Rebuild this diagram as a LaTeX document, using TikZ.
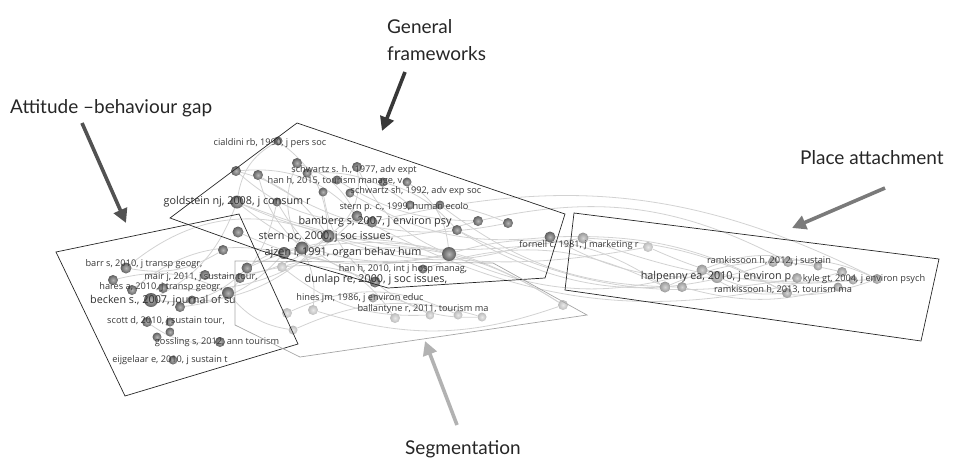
\documentclass[tikz,border=0pt]{standalone}
\usepackage{fontspec}
\setmainfont{Lato}
\newfontfamily\lblfont{Open Sans}
\usetikzlibrary{arrows.meta}
\definecolor{dkball}{HTML}{787878}
\definecolor{mdball}{HTML}{B2B2B2}
\definecolor{ltball}{HTML}{D4D4D4}
\definecolor{edgec}{HTML}{D2D2D2}
\definecolor{labc}{HTML}{383838}
\pgfdeclarelayer{linklayer}
\pgfsetlayers{linklayer,main}
\begin{document}
\begin{tikzpicture}[x=1pt,y=-1pt,
  dk/.style={circle,inner sep=0pt,minimum size=#1,shading=radial,inner color=dkball!55!white,outer color=dkball!80!black},
  md/.style={circle,inner sep=0pt,minimum size=#1,shading=radial,inner color=mdball!55!white,outer color=mdball!85!black},
  lt/.style={circle,inner sep=0pt,minimum size=#1,shading=radial,inner color=ltball!50!white,outer color=ltball!88!black},
  lab/.style={inner sep=0pt,font=\lblfont\fontsize{9.2}{10}\selectfont,text=labc},
  biglab/.style={inner sep=0pt,font=\lblfont\fontsize{10.8}{12}\selectfont,text=labc!85!black},
  web/.style={draw=edgec,line width=0.8pt},
  hull/.style={draw=black!85,line width=0.7pt},
  seghull/.style={draw=black!35,line width=0.7pt},
  title/.style={inner sep=0pt,anchor=base west,font=\fontsize{19}{22}\selectfont,text=black!85},
  pointer/.style={line width=3.6pt,-{Triangle[length=14pt,width=14pt]}}
]
\useasboundingbox (0,0) rectangle (961,458);

% ---------- balls ----------
% left cluster
\node[dk=11pt] (L1) at (126,268) {};
\node[dk=10pt] (L2) at (113,280) {};
\node[dk=10pt] (L3) at (132,290) {};
\node[dk=14pt] (L4) at (151,300) {};
\node[dk=10pt] (L5) at (163,288) {};
\node[dk=10pt] (L6) at (180,307) {};
\node[dk=9pt] (L7) at (192,300) {};
\node[dk=10pt] (L8) at (205,275) {};
\node[dk=12pt] (L9) at (228,293) {};
\node[dk=10pt] (L10) at (240,278) {};
\node[dk=11pt] (L11) at (247,268) {};
\node[dk=10pt] (L12) at (223,250) {};
\node[dk=11pt] (L13) at (238,232) {};
\node[dk=10pt] (L14) at (147,322) {};
\node[dk=9pt] (L15) at (170,322) {};
\node[dk=9pt] (L16) at (170,332) {};
\node[dk=9pt] (L17) at (157,337) {};
\node[dk=10pt] (L18) at (220,342) {};
\node[dk=9pt] (L19) at (173,360) {};
% central cluster
\node[dk=9pt] (C1) at (278,141) {};
\node[dk=10pt] (C2) at (236,171) {};
\node[dk=10pt] (C3) at (258,175) {};
\node[dk=10pt] (C4) at (297,163) {};
\node[dk=9pt] (C5) at (307,173) {};
\node[dk=10pt] (C6) at (357,167) {};
\node[dk=9pt] (C7) at (337,180) {};
\node[dk=9pt] (C8) at (350,193) {};
\node[dk=9pt] (C9) at (383,182) {};
\node[dk=9pt] (C10) at (407,182) {};
\node[dk=9pt] (C11) at (323,192) {};
\node[dk=13pt] (C12) at (237,202) {};
\node[dk=9pt] (C13) at (277,202) {};
\node[dk=9pt] (C14) at (410,205) {};
\node[dk=9pt] (C15) at (440,205) {};
\node[dk=11pt] (C16) at (357,216) {};
\node[dk=13pt] (C17) at (328,236) {};
\node[dk=13pt] (C19) at (302,248) {};
\node[dk=14pt] (C20) at (449,254) {};
\node[dk=10pt] (C22) at (478,221) {};
\node[dk=10pt] (C23) at (508,223) {};
\node[dk=10pt] (C24) at (457,230) {};
\node[dk=11pt] (C25) at (550,237) {};
\node[dk=11pt] (C26) at (375,282) {};
\node[dk=11pt] (C28) at (372,222) {};
\node[dk=12pt] (C29) at (284,253) {};
\node[dk=9pt] (C30) at (423,269) {};
% segmentation
\node[lt=10pt] (S1) at (282,267) {};
\node[lt=10pt] (S2) at (313,310) {};
\node[lt=10pt] (S3) at (287,313) {};
\node[lt=9pt] (S4) at (293,330) {};
\node[lt=10pt] (S5) at (395,318) {};
\node[lt=9pt] (S6) at (430,315) {};
\node[lt=9pt] (S7) at (458,315) {};
\node[lt=9pt] (S8) at (482,317) {};
\node[lt=10pt] (S9) at (563,305) {};
\node[md=9pt] (S10) at (373,298) {};
% right cluster
\node[md=11pt] (R1) at (583,238) {};
\node[lt=10pt] (R2) at (648,247) {};
\node[md=11pt] (R3) at (702,270) {};
\node[md=10pt] (R4) at (773,262) {};
\node[md=10pt] (R5) at (788,262) {};
\node[md=9pt] (R6) at (818,266) {};
\node[md=10pt] (R7) at (797,278) {};
\node[md=10pt] (R8) at (842,272) {};
\node[md=9pt] (R9) at (853,280) {};
\node[md=10pt] (R10) at (877,279) {};
\node[md=11pt] (R11) at (665,287) {};
\node[md=10pt] (R12) at (682,287) {};
\node[md=10pt] (R13) at (787,293) {};
\node[md=9pt] (R14) at (838,287) {};
\node[md=12pt] (R15) at (717,277) {};

% ---------- links (behind the balls) ----------
\begin{pgfonlayer}{linklayer}
\foreach \a/\b/\c in {C12/L4/20,C12/C20/-25,C2/C28/-20,C1/C17/25,C3/C19/-15,C4/C16/20,
  C6/C20/-20,C9/C24/15,C11/C26/-20,C13/L9/15,C17/L4/25,C19/L11/-15,C20/R3/-20,C25/R15/-15,
  C20/R11/25,C24/R4/-25,C16/R8/-22,C28/R10/20,L4/L11/-25,L1/L12/-20,L2/L9/20,L14/L18/-20,
  C29/L6/20,C29/S5/25,C19/S9/20,C26/S8/-20,S3/S7/25,S1/S6/-20,C17/C25/-20,C12/C22/-20,
  C2/C16/25,C3/C23/-22,R1/R10/-12,R1/R13/12,R2/R9/-15,R11/R8/18,R12/R14/-15,R3/R6/20,
  R15/R10/-20,C25/R13/15,C24/R7/-18,L13/C20/-18,L8/C17/-20,C5/C14/20,C7/C22/-15,C8/C25/-18,
  L3/C29/25,L10/C26/20,S2/S9/-18,S4/S8/20,C30/R11/22,C14/C23/12,C1/C12/-25,C2/C17/20,
  C4/C19/-25,C6/C17/30,C10/C20/25,C13/C26/-20,L1/C17/30,L5/C16/-25,L11/C20/20,C12/R1/-15,
  C22/R5/20,C15/R12/-18,S1/S9/25,S10/S6/15,C19/S2/15,L9/S4/-20,C17/R2/-12,R3/R13/-20,R4/R10/15}
  {\draw[web] (\a) to[bend left=\c] (\b);}
\end{pgfonlayer}

% ---------- labels ----------
\node[lab] (t1) at (144,264) {barr s, 2010, j transp geogr,};
\node[lab] (t2) at (201,277) {mair j, 2011, j sustain tour,};
\node[lab] (t3) at (161,287) {hares a, 2010, j transp geogr,};
\node[biglab] (t4) at (163,301) {becken s., 2007, journal of su};
\node[lab] (t5) at (166,321) {scott d, 2010, j sustain tour,};
\node[lab] (t6) at (217,342) {gossling s, 2012, ann tourism};
\node[lab] (t7) at (170,360) {eijgelaar e, 2010, j sustain t};
\node[lab] (t8) at (270,143) {cialdini rb, 1990, j pers soc};
\node[lab] (t9) at (354,170) {schwartz s. h., 1977, adv expt};
\node[lab] (t10) at (335,181) {han h, 2015, tourism manage, v};
\node[lab] (t11) at (416,191) {schwartz sh, 1992, adv exp soc};
\node[biglab] (t12) at (237,202) {goldstein nj, 2008, j consum r};
\node[lab] (t13) at (404,207) {stern p. c., 1999, human ecolo};
\node[biglab] (t14) at (375,222) {bamberg s, 2007, j environ psy};
\node[biglab] (t15) at (326,237) {stern pc, 2000, j soc issues,};
\node[biglab] (t16) at (343,253) {ajzen i, 1991, organ behav hum};
\node[lab] (t17) at (403,269) {han h, 2010, int j hosp manag,};
\node[biglab] (t18) at (376,280) {dunlap re, 2000, j soc issues,};
\node[lab] (t19) at (360,298) {hines jm, 1986, j environ educ};
\node[lab] (t20) at (423,309) {ballantyne r, 2011, tourism ma};
\node[lab] (t21) at (579,245) {fornell c, 1981, j marketing r};
\node[lab] (t22) at (769,261) {ramkissoon h, 2012, j sustain};
\node[biglab] (t23) at (716,277) {halpenny ea, 2010, j environ p};
\node[lab] (t24) at (864,279) {kyle gt, 2004, j environ psych};
\node[lab] (t25) at (783,290) {ramkissoon h, 2013, tourism ma};

% ---------- cluster outlines ----------
\draw[hull] (297,123) -- (565,214) -- (545,278) -- (388,288) -- (262,251) -- (170,218) -- cycle;
\draw[hull] (56,252) -- (239,214) -- (298,344) -- (125,396) -- cycle;
\draw[seghull] (235,261) -- (493,263) -- (587,315) -- (300,357) -- (235,325) -- cycle;
\draw[hull] (574,213) -- (939,259) -- (921,341) -- (565,290) -- cycle;

% ---------- titles and pointers ----------
\node[title] (gf1) at (387,33) {General};
\node[title] (gf2) at (387,60) {frameworks};
\node[title] (ab) at (10,113) {Attitude –behaviour gap};
\node[title] (pa) at (800,164) {Place attachment};
\node[title] (sg) at (405,454) {Segmentation};

\coordinate (gfs) at (405,72);  \coordinate (gft) at (382,131);
\coordinate (abs) at (82,123);  \coordinate (abt) at (126,223);
\coordinate (pas) at (885,188); \coordinate (pat) at (792,228);
\coordinate (sgs) at (457,425); \coordinate (sgt) at (425,341);
\draw[pointer,draw=black!78,fill=black!78] (gfs) -- (gft);
\draw[pointer,draw=black!68,fill=black!68] (abs) -- (abt);
\draw[pointer,draw=black!52,fill=black!52] (pas) -- (pat);
\draw[pointer,draw=black!30,fill=black!30] (sgs) -- (sgt);
\end{tikzpicture}
\end{document}
